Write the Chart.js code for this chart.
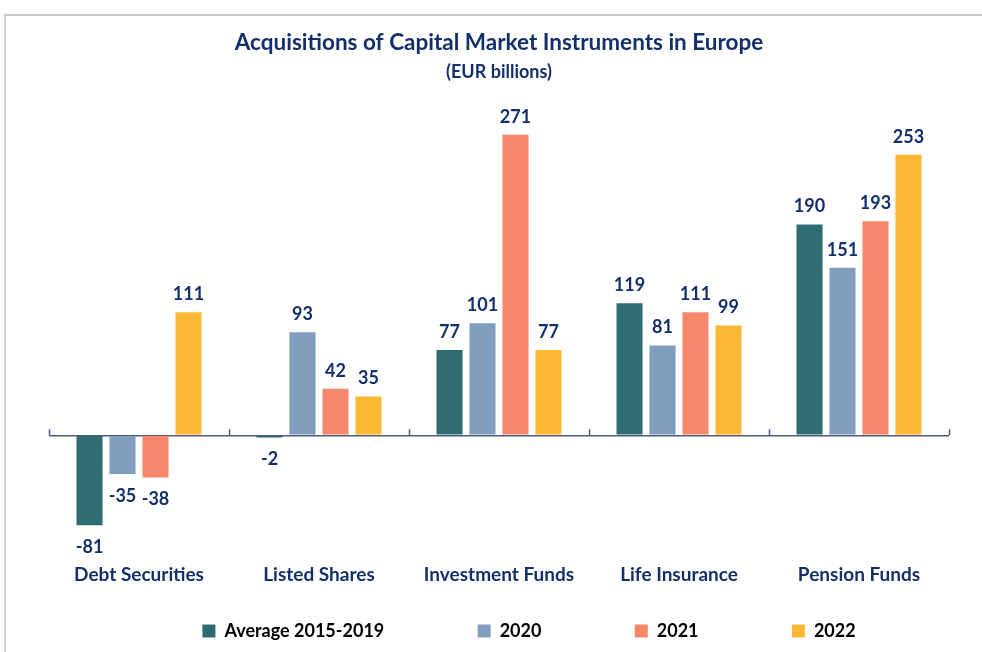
<!DOCTYPE html>
<html>
<head>
<meta charset="utf-8">
<script src="https://cdn.jsdelivr.net/npm/chart.js@4.4.1/dist/chart.umd.min.js"></script>
<style>
    html, body { margin:0; padding:0; background:#fff; overflow:hidden; }
    #wrap { position:relative; width:982px; height:652px; }
    #frame {
        position:absolute; left:4px; top:14px; right:-10px; bottom:-10px;
        border-top:2px solid #c6c6c6; border-left:2px solid #d2d2d2;
        pointer-events:none;
    }
</style>
</head>
<body>
<div id="wrap">
    <canvas id="chartAcq" width="982" height="652"></canvas>
    <div id="frame"></div>
</div>
<script>
const categories = ["Debt Securities","Listed Shares","Investment Funds","Life Insurance","Pension Funds"];
const seriesNames = ["Average 2015-2019","2020","2021","2022"];
const avg2015_2019 = [-81,-2,77,119,190];
const y2020 = [-35,93,101,81,151];
const y2021 = [-38,42,271,111,193];
const y2022 = [111,35,77,99,253];

const navy = "#13306b";
const axisColor = "#4d5a7c";
const colors = ["#306d73","#809dbd","#f5876a","#fdb833"];
const fontFamily = "Lato, 'Open Sans', sans-serif";

// gap between legend entries is made by trailing spaces
const mctx = document.createElement("canvas").getContext("2d");
mctx.font = "bold 18px " + fontFamily;
const spaceW = mctx.measureText(" ").width;
const legendPad = " ".repeat(Math.round(75/spaceW));

// value labels above / below each bar
const valueLabels = {
    id:"valueLabels",
    afterDatasetsDraw(chart){
        const ctx = chart.ctx;
        ctx.save();
        ctx.font = "bold 18px " + fontFamily;
        ctx.fillStyle = navy;
        ctx.textAlign = "center";
        ctx.textBaseline = "middle";
        chart.data.datasets.forEach((ds,i)=>{
            const meta = chart.getDatasetMeta(i);
            meta.data.forEach((bar,j)=>{
                const v = ds.data[j];
                const y = v >= 0 ? bar.y - 18 : bar.y + 22;
                ctx.fillText(String(v), bar.x, y);
            });
        });
        ctx.restore();
    }
};

// little tick marks on the zero line between the categories
const zeroTicks = {
    id:"zeroTicks",
    afterDatasetsDraw(chart){
        const x = chart.scales.x;
        const y0 = chart.scales.y.getPixelForValue(0);
        const step = x.width / categories.length;
        const ctx = chart.ctx;
        ctx.save();
        ctx.strokeStyle = axisColor;
        ctx.lineWidth = 1.5;
        ctx.beginPath();
        for(let i=0;i<=categories.length;i++){
            const px = Math.round(x.left + i*step) + 0.5;
            ctx.moveTo(px, y0 - 6);
            ctx.lineTo(px, y0);
        }
        ctx.stroke();
        ctx.restore();
    }
};

const seriesData = [avg2015_2019, y2020, y2021, y2022];

new Chart(document.getElementById("chartAcq"),{
    type:"bar",
    data:{
        labels:categories,
        datasets:seriesNames.map((name,i)=>({
            label:name,
            data:seriesData[i],
            backgroundColor:colors[i],
            categoryPercentage:0.733,
            barPercentage:0.79
        }))
    },
    options:{
        responsive:false,
        animation:false,
        layout:{
            padding:{left:49, right:33, top:0, bottom:2}
        },
        scales:{
            x:{
                grid:{display:false, drawTicks:false},
                border:{display:false},
                ticks:{
                    color:navy,
                    padding:17,
                    font:{family:fontFamily, size:19, weight:"bold"}
                }
            },
            y:{
                min:-100,
                max:300,
                ticks:{display:false, stepSize:100},
                border:{display:false},
                grid:{
                    drawTicks:false,
                    lineWidth:1.5,
                    color:ctx => ctx.tick && ctx.tick.value === 0 ? axisColor : "rgba(0,0,0,0)"
                }
            }
        },
        plugins:{
            title:{
                display:true,
                text:"Acquisitions of Capital Market Instruments in Europe",
                color:navy,
                font:{family:fontFamily, size:22.5, weight:"bold"},
                padding:{top:29, bottom:5}
            },
            subtitle:{
                display:true,
                text:"(EUR billions)",
                color:navy,
                font:{family:fontFamily, size:18, weight:"bold"},
                padding:{top:0, bottom:20}
            },
            legend:{
                position:"bottom",
                align:"end",
                labels:{
                    color:navy,
                    boxWidth:13,
                    boxHeight:13,
                    padding:19,
                    font:{family:fontFamily, size:18, weight:"bold"},
                    generateLabels(chart){
                        return chart.data.datasets.map((ds,i)=>({
                            text:ds.label + legendPad,
                            fillStyle:ds.backgroundColor,
                            strokeStyle:ds.backgroundColor,
                            lineWidth:0,
                            hidden:false,
                            datasetIndex:i
                        }));
                    }
                }
            },
            tooltip:{enabled:false}
        }
    },
    plugins:[valueLabels, zeroTicks]
});
</script>
</body>
</html>
